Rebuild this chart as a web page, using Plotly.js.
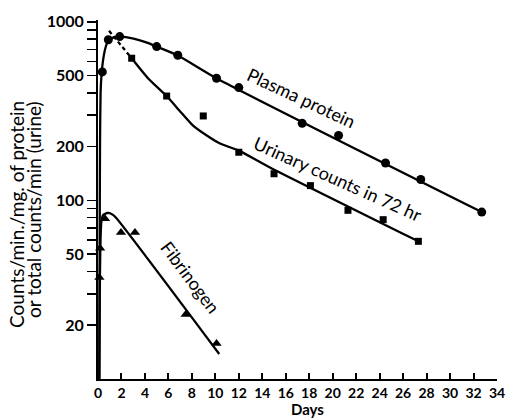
<!DOCTYPE html>
<html>
<head>
<meta charset="utf-8">
<script src="https://cdn.plot.ly/plotly-3.0.1.min.js"></script>
<style>html,body{margin:0;padding:0;background:#fff;}#chart{width:509px;height:420px;}</style>
</head>
<body>
<div id="chart"></div>
<script>
// Measured points
var plasmaDays   = [0.37, 0.88, 1.85, 5.0, 6.8, 10.1, 12.0, 17.4, 20.5, 24.5, 27.5, 32.7];
var plasmaCounts = [524, 793, 826, 726, 650, 483, 428, 270, 231, 162, 131, 86];

var urineDays   = [2.87, 5.85, 8.97, 12.0, 15.0, 18.1, 21.3, 24.3, 27.3];
var urineCounts = [625, 384, 297, 186, 141, 121, 88, 78, 59];

var fibDays   = [0.12, 0.18, 0.6, 1.96, 3.15, 7.47, 10.1];
var fibCounts = [37, 54, 79, 66, 66, 23, 15.8];

// Hand-drawn fitted curves
var plasmaFitDays   = [0.12, 0.14, 0.17, 0.22, 0.3, 0.45, 0.65, 0.9, 1.3, 1.85, 2.6, 3.5, 4.3, 5.0, 6.8, 10.1, 32.7];
var plasmaFitCounts = [10, 50, 200, 400, 505, 620, 720, 790, 815, 826, 815, 790, 760, 726, 648, 483, 86];

var urineDashDays   = [0.94, 2.87];
var urineDashCounts = [890, 625];
var urineFitDays   = [2.87, 4.3, 5.85, 7.0, 8.1, 9.3, 10.4, 12.0, 14.65, 27.3];
var urineFitCounts = [625, 480, 384, 315, 262, 230, 208, 190, 153, 59];

var fibFitDays   = [0.1, 0.15, 0.2, 0.28, 0.45, 0.8, 1.15, 1.5, 10.33];
var fibFitCounts = [10, 30, 55, 75, 83, 85, 84, 80.5, 13.8];

// Axis ticks
var xTicks = [0,2,4,6,8,10,12,14,16,18,20,22,24,26,28,30,32,34];
var yTickVals = [20,30,40,50,60,70,80,90,100,200,300,400,500,600,700,800,900,1000];
var yTickText = ['20','','','50','','','','','100','200','','','500','','','','','1000'];

var FONT = 'Lato, "Open Sans", sans-serif';
var lineStyle = {color:'#000', width:2.3};

var traces = [
  {x: plasmaFitDays, y: plasmaFitCounts, mode:'lines', line: Object.assign({shape:'spline', smoothing:0.6}, lineStyle), hoverinfo:'skip'},
  {x: urineDashDays, y: urineDashCounts, mode:'lines', line:{color:'#000', width:2.3, dash:'4px,3px'}, hoverinfo:'skip'},
  {x: urineFitDays, y: urineFitCounts, mode:'lines', line: Object.assign({shape:'spline', smoothing:0.6}, lineStyle), hoverinfo:'skip'},
  {x: fibFitDays, y: fibFitCounts, mode:'lines', line: Object.assign({shape:'spline', smoothing:0.5}, lineStyle), hoverinfo:'skip'},
  {x: plasmaDays, y: plasmaCounts, mode:'markers', marker:{symbol:'circle', size:9, color:'#000'}, cliponaxis:false},
  {x: urineDays, y: urineCounts, mode:'markers', marker:{symbol:'square', size:7, color:'#000'}, cliponaxis:false},
  {x: fibDays, y: fibCounts, mode:'markers', marker:{symbol:'triangle-up', size:9, color:'#000'}, cliponaxis:false}
];

var layout = {
  width:509, height:420,
  margin:{l:98, r:12, t:20, b:41},
  paper_bgcolor:'#fff', plot_bgcolor:'#fff',
  showlegend:false,
  font:{family:FONT, color:'#000'},
  xaxis:{
    range:[0,34], tickmode:'array', tickvals:xTicks,
    ticks:'inside', ticklen:6, tickwidth:2, tickcolor:'#000',
    showline:true, linewidth:2, linecolor:'#000',
    showgrid:false, zeroline:false,
    tickfont:{family:FONT, size:14, color:'#000', weight:700}
  },
  yaxis:{
    type:'log', range:[1,3.01], tickmode:'array', tickvals:yTickVals, ticktext:yTickText,
    ticks:'outside', ticklen:9, tickwidth:1.5, tickcolor:'#000',
    showline:true, linewidth:2, linecolor:'#000',
    showgrid:false, zeroline:false,
    tickfont:{family:FONT, size:16, color:'#000', weight:700}
  },
  annotations:[
    {text:'Days', xref:'paper', yref:'paper', x:0.524, y:-0.084, xanchor:'center', yanchor:'middle', showarrow:false, font:{family:FONT, size:15, color:'#000', weight:700}},
    {text:'Counts/min./mg. of protein', xref:'paper', yref:'paper', x:-0.203, y:0.457, xanchor:'center', yanchor:'middle', textangle:-90, showarrow:false, font:{family:FONT, size:19, color:'#000'}},
    {text:'or total counts/min (urine)', xref:'paper', yref:'paper', x:-0.1604, y:0.471, xanchor:'center', yanchor:'middle', textangle:-90, showarrow:false, font:{family:FONT, size:19, color:'#000'}},
    {text:'Plasma protein', xref:'paper', yref:'paper', x:0.511, y:0.783, xanchor:'center', yanchor:'middle', textangle:25, showarrow:false, font:{family:FONT, size:18, color:'#000'}},
    {text:'Urinary counts in 72 hr', xref:'paper', yref:'paper', x:0.602, y:0.557, xanchor:'center', yanchor:'middle', textangle:24, showarrow:false, font:{family:FONT, size:18, color:'#000'}},
    {text:'Fibrinogen', xref:'paper', yref:'paper', x:0.231, y:0.283, xanchor:'center', yanchor:'middle', textangle:53, showarrow:false, font:{family:FONT, size:18, color:'#000'}}
  ]
};

Plotly.newPlot('chart', traces, layout, {staticPlot:true, displayModeBar:false});
</script>
</body>
</html>
